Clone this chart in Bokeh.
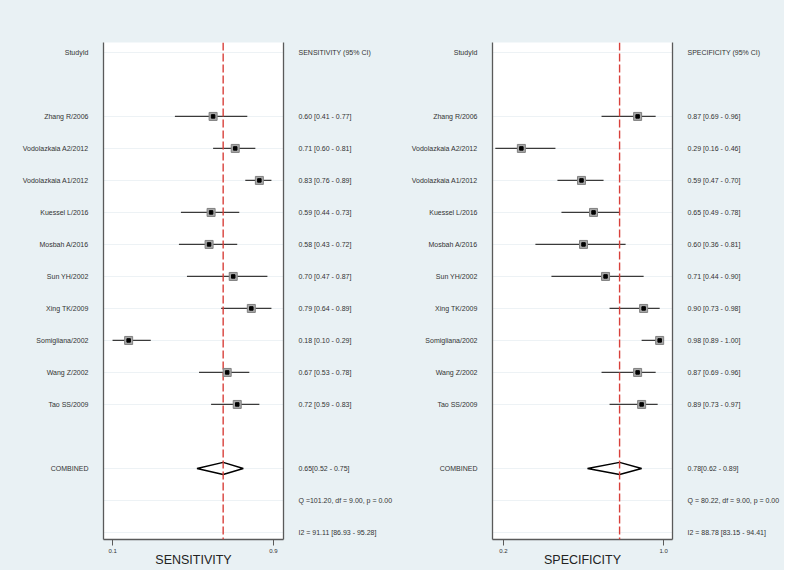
from bokeh.plotting import figure
from bokeh.models import Range1d, FixedTicker, LinearAxis, Span
from bokeh.layouts import row
from bokeh.embed import file_html
from bokeh.resources import INLINE

studies = ["Zhang R/2006", "Vodolazkaia A2/2012", "Vodolazkaia A1/2012", "Kuessel L/2016",
           "Mosbah A/2016", "Sun YH/2002", "Xing TK/2009", "Somigliana/2002",
           "Wang Z/2002", "Tao SS/2009"]

sens = [0.60, 0.71, 0.83, 0.59, 0.58, 0.70, 0.79, 0.18, 0.67, 0.72]
sens_lo = [0.41, 0.60, 0.76, 0.44, 0.43, 0.47, 0.64, 0.10, 0.53, 0.59]
sens_hi = [0.77, 0.81, 0.89, 0.73, 0.72, 0.87, 0.89, 0.29, 0.78, 0.83]
sens_combined = [0.65, 0.52, 0.75]
sens_q = "Q =101.20, df = 9.00, p =  0.00"
sens_i2 = "I2 = 91.11 [86.93 - 95.28]"

spec = [0.87, 0.29, 0.59, 0.65, 0.60, 0.71, 0.90, 0.98, 0.87, 0.89]
spec_lo = [0.69, 0.16, 0.47, 0.49, 0.36, 0.44, 0.73, 0.89, 0.69, 0.73]
spec_hi = [0.96, 0.46, 0.70, 0.78, 0.81, 0.90, 0.98, 1.00, 0.96, 0.97]
spec_combined = [0.78, 0.62, 0.89]
spec_q = "Q = 80.22, df = 9.00, p =  0.00"
spec_i2 = "I2 = 88.78 [83.15 - 94.41]"

header_row = 0
study_rows = list(range(2, 12))
combined_row = 13
q_row = 14
i2_row = 15

FONT = "Liberation Sans"
BG = "#e9f1f4"
Y_TOP, Y_BOTTOM = -0.31, 15.22


def panel(est, lo, hi, comb, qtxt, i2txt, title, xr, xticks, xtick_labels, w, bl, br):
    p = figure(width=w, height=570, output_backend="svg", toolbar_location=None,
               x_range=Range1d(*xr), y_range=Range1d(Y_BOTTOM, Y_TOP),
               min_border_left=bl, min_border_right=br, min_border_top=42, min_border_bottom=31)
    p.border_fill_color = BG
    p.background_fill_color = "white"
    p.outline_line_color = None
    p.xgrid.visible = False
    all_rows = [header_row] + study_rows + [combined_row, q_row, i2_row]
    p.ygrid.ticker = FixedTicker(ticks=all_rows)
    p.ygrid.grid_line_color = "#edf2f5"
    p.ygrid.grid_line_width = 1

    # left axis: study names
    ya = p.yaxis[0]
    ya.ticker = FixedTicker(ticks=[header_row] + study_rows + [combined_row])
    ov = {header_row: "StudyId", combined_row: "COMBINED"}
    for r, s in zip(study_rows, studies):
        ov[r] = s
    ya.major_label_overrides = ov
    ya.major_tick_out = 0
    ya.major_tick_in = 0
    ya.minor_tick_out = 0
    ya.minor_tick_in = 0
    ya.major_label_standoff = 15
    ya.axis_line_color = "#5a5a5a"
    ya.axis_line_width = 1.3
    ya.major_label_text_font = FONT
    ya.major_label_text_font_size = "7px"
    ya.major_label_text_color = "#333333"

    # right axis: estimates
    ra = LinearAxis(ticker=FixedTicker(ticks=all_rows))
    rov = {header_row: title + " (95% CI)"}
    for r, e, l, h in zip(study_rows, est, lo, hi):
        rov[r] = f"{e:.2f} [{l:.2f} - {h:.2f}]"
    rov[combined_row] = f" {comb[0]:.2f}[{comb[1]:.2f} - {comb[2]:.2f}]"
    rov[q_row] = qtxt
    rov[i2_row] = i2txt
    ra.major_label_overrides = rov
    ra.major_tick_out = 0
    ra.major_tick_in = 0
    ra.minor_tick_out = 0
    ra.minor_tick_in = 0
    ra.major_label_standoff = 15
    ra.axis_line_color = "#5a5a5a"
    ra.axis_line_width = 1.3
    ra.major_label_text_font = FONT
    ra.major_label_text_font_size = "7px"
    ra.major_label_text_color = "#333333"
    p.add_layout(ra, "right")

    # bottom axis
    xa = p.xaxis[0]
    xa.ticker = FixedTicker(ticks=xticks)
    xa.major_label_overrides = dict(zip(xticks, xtick_labels))
    xa.major_tick_out = 6
    xa.major_tick_in = 0
    xa.minor_tick_out = 0
    xa.minor_tick_in = 0
    xa.major_tick_line_color = "#5a5a5a"
    xa.axis_line_color = "#5a5a5a"
    xa.axis_line_width = 1.3
    xa.major_label_standoff = 3
    xa.major_label_text_font = FONT
    xa.major_label_text_font_size = "6px"
    xa.major_label_text_color = "#333333"
    xa.axis_label = title
    xa.axis_label_text_font = FONT
    xa.axis_label_text_font_size = "12.5px"
    xa.axis_label_text_font_style = "normal"
    xa.axis_label_text_color = "#222222"
    xa.axis_label_standoff = -3

    # CI lines
    p.segment(x0=lo, y0=study_rows, x1=hi, y1=study_rows, line_color="#3a3a3a", line_width=1.2)
    # pooled diamond
    d = 0.19
    p.patch(x=[comb[1], comb[0], comb[2], comb[0]],
            y=[combined_row, combined_row - d, combined_row, combined_row + d],
            fill_color="white", line_color="black", line_width=1.5)
    # reference line at pooled estimate
    p.add_layout(Span(location=comb[0], dimension="height", line_color="#d8403a",
                      line_dash="8 3", line_width=1.4))
    # study markers
    p.scatter(x=est, y=study_rows, marker="square", size=8, fill_color="#a8a8a8",
              line_color="#808080", line_width=1, level="overlay")
    p.scatter(x=est, y=study_rows, marker="square", size=3.5, fill_color="black",
              line_color="black", level="overlay")
    return p


p1 = panel(sens, sens_lo, sens_hi, sens_combined, sens_q, sens_i2, "SENSITIVITY",
           (0.055, 0.95), [0.1, 0.9], ["0.1", "0.9"], 400, 103, 117)
p2 = panel(spec, spec_lo, spec_hi, spec_combined, spec_q, spec_i2, "SPECIFICITY",
           (0.146, 1.044), [0.2, 1.0], ["0.2", "1.0"], 384, 92, 109)

layout = row(p1, p2, spacing=0, styles={"background-color": BG})
open("out.html", "w").write(file_html(layout, INLINE))
